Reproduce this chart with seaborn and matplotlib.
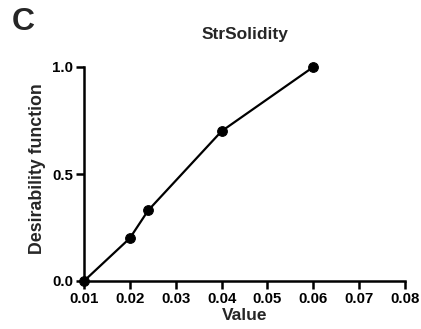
import matplotlib
matplotlib.use("Agg")
import matplotlib.pyplot as plt
import seaborn as sns
import pandas as pd

x_values = [0.01, 0.02, 0.024, 0.04, 0.06]
y_values = [0.0, 0.2, 0.33, 0.7, 1.0]
x_ticks = [0.01, 0.02, 0.03, 0.04, 0.05, 0.06, 0.07, 0.08]
y_ticks = [0.0, 0.5, 1.0]

sns.set_theme(style="ticks")
plt.rcParams['font.family'] = ['Liberation Sans', 'DejaVu Sans']
plt.rcParams['font.weight'] = 'bold'

df = pd.DataFrame({"Value": x_values, "Desirability": y_values})

fig = plt.figure(figsize=(4.21, 3.29), dpi=100)
ax = fig.add_axes([84/421, 1-281/329, (405-84)/421, (281-67)/329])
sns.lineplot(data=df, x="Value", y="Desirability", ax=ax, color="black",
             linewidth=1.6, marker="o", markersize=7, markeredgecolor="black",
             clip_on=False)

ax.set_xlim(0.01, 0.08)
ax.set_ylim(0.0, 1.0)
ax.set_xticks(x_ticks)
ax.set_xticklabels([f"{t:.2f}" for t in x_ticks])
ax.set_yticks(y_ticks)
ax.set_yticklabels([f"{t:.1f}" for t in y_ticks])
ax.tick_params(axis="both", direction="out", length=6, width=1.8, labelsize=10.8, pad=2, colors="black")
for lab in ax.get_xticklabels() + ax.get_yticklabels():
    lab.set_fontweight("bold")
for s in ["top", "right"]:
    ax.spines[s].set_visible(False)
for s in ["left", "bottom"]:
    ax.spines[s].set_linewidth(1.8)
    ax.spines[s].set_color("black")

ax.set_xlabel("Value", fontsize=12.5, fontweight="bold", labelpad=1)
ax.set_ylabel("Desirability function", fontsize=12.8, fontweight="bold")
ax.yaxis.set_label_coords(-0.118, 0.526)
ax.set_title("StrSolidity", fontsize=12.5, fontweight="bold", pad=20)
fig.text(12/421, 1-22/329, "C", fontsize=23, fontweight="bold", va="center", ha="left")

fig.savefig("out.png", dpi=100)
